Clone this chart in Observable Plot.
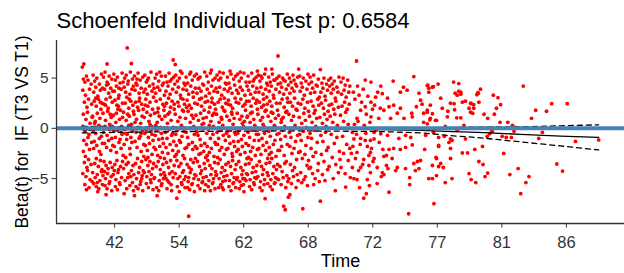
<!DOCTYPE html>
<html><head><meta charset="utf-8">
<script src="https://cdn.jsdelivr.net/npm/d3@7"></script>
<script src="https://cdn.jsdelivr.net/npm/@observablehq/plot@0.6"></script>
<style>
html,body{margin:0;padding:0;background:#fff;}
#chart svg{display:block;}
</style></head><body><div id="chart"></div>
<script>
const titleText = "Schoenfeld Individual Test p: 0.6584";
const xLabel = "Time";
const yLabel = "Beta(t) for\u00a0 IF (T3 VS T1)";
// x positions are KM-transformed time (per mille of range); labels are times
const tickPos = [62.5,187.5,312.5,437.5,562.5,687.5,812.5,937.5];
const tickLabels = ["42","54","62","68","72","77","81","86"];
const yTicks = [-5,0,5];

// scaled Schoenfeld residuals: [transformed time, beta(t)]
const residuals = [
[0,6.1],[3,6.4],[2,4.9],[5,4.6],[8,5.2],[11,4.8],[1,3.8],[6,3.3],[14,3.9],[17,4.4],[4,2.6],[9,2.1],[12,2.9],[18,2.4],[2,1.4],[7,0.9],[10,1.6],[15,0.5],[19,1.1],[1,0.2],[5,-0.3],[13,-0.6],[16,-0.1],[3,-1.2],[8,-1.6],[11,-0.9],[18,-1.4],[2,-2.3],[6,-2.8],[14,-2.1],[4,-3.4],[9,-3.9],[12,-3.1],[17,-3.6],[1,-4.5],[7,-4.8],[10,-4.2],[15,-5.1],[5,-5.6],[13,-5.9],[19,-5.3],[8,-6.1],
[21,5.3],[24,4.7],[28,5.0],[33,4.4],[37,5.4],[22,3.6],[26,4.1],[30,3.2],[35,3.8],[39,4.0],[23,2.7],[27,2.2],[31,2.9],[36,1.9],[38,2.5],[20,1.2],[25,0.7],[29,1.5],[32,0.3],[34,1.0],[21,-0.2],[26,-0.5],[30,0.1],[37,-0.8],[23,-1.3],[28,-1.7],[33,-1.0],[39,-1.5],[22,-2.0],[27,-3.0],[36,-2.6],[24,-3.5],[31,-3.8],[35,-3.2],[38,-4.1],[20,-4.4],[25,-4.9],[29,-4.6],[34,-5.2],[37,-4.3],[22,-5.5],[27,-5.8],[32,-6.0],[39,-5.6],[30,-6.3],[26,3.0],[33,-2.3],[24,0.5],[35,2.6],[29,-5.4],
[41,5.1],[44,5.6],[48,6.4],[48,4.6],[52,5.2],[57,4.9],[43,3.9],[47,4.3],[51,3.5],[55,4.0],[59,3.7],[42,2.4],[46,2.9],[50,2.0],[54,3.1],[58,2.6],[40,1.5],[45,0.8],[49,1.7],[53,0.4],[56,1.1],[41,-0.4],[44,0.2],[48,-0.7],[52,-0.1],[57,-1.0],[43,-1.5],[47,-1.9],[51,-1.2],[55,-2.2],[59,-1.7],[42,-3.3],[46,-3.7],[50,-4.0],[54,-3.4],[58,-3.9],[40,-4.7],[45,-5.0],[49,-4.5],[53,-5.3],[56,-4.8],[44,-5.7],[48,-6.0],[52,-5.5],[57,-6.2],[46,-6.6],[50,4.4],[54,1.4],[43,-4.3],[58,0.2],[45,2.3],
[61,5.4],[64,4.8],[68,5.1],[73,4.5],[77,5.5],[62,3.7],[66,4.2],[71,3.3],[75,3.9],[79,4.6],[63,2.8],[67,2.3],[70,3.0],[74,1.8],[78,2.5],[60,1.3],[65,0.6],[69,1.9],[72,0.9],[76,0.2],[61,-0.3],[64,-0.9],[68,-0.2],[73,-1.1],[77,-0.6],[62,-1.8],[66,-2.4],[71,-1.4],[75,-2.0],[79,-2.7],[63,-3.6],[67,-3.2],[70,-4.1],[74,-3.8],[78,-3.3],[60,-4.6],[65,-5.1],[69,-4.4],[72,-5.4],[76,-4.9],[64,-5.8],[68,-6.1],[73,-5.6],[81,-6.5],[66,1.5],[71,4.0],[75,-0.4],[62,-4.2],[78,1.1],[70,2.2],
[82,5.0],[85,5.3],[87,8.0],[89,4.7],[93,5.6],[95,6.45],[97,4.9],[81,4.1],[84,3.6],[88,4.4],[92,3.4],[96,3.9],[99,4.2],[83,2.5],[86,3.1],[90,2.0],[94,2.7],[98,2.3],[80,1.6],[85,0.8],[91,1.2],[95,0.4],[99,1.7],[82,-0.1],[87,-0.6],[90,0.3],[94,-0.9],[97,-0.3],[81,-1.6],[86,-1.1],[92,-2.0],[96,-1.4],[84,-2.9],[89,-3.4],[93,-2.6],[98,-3.7],[80,-4.0],[85,-3.6],[90,-4.5],[95,-4.2],[83,-5.2],[88,-4.9],[92,-5.7],[97,-5.4],[86,-6.0],[99,-6.2],[91,2.9],[94,-4.8],[88,1.4],[84,-0.5],
[101,5.2],[104,4.5],[108,5.5],[112,4.8],[117,5.1],[102,3.8],[106,4.3],[110,3.5],[114,4.0],[119,3.6],[103,2.6],[107,2.1],[111,3.0],[115,2.4],[118,1.9],[100,1.4],[105,0.9],[109,1.8],[113,0.5],[116,1.2],[101,-6.7],[104,-0.4],[108,0.1],[112,-0.8],[117,-0.2],[102,-1.3],[106,-1.9],[110,-1.0],[114,-2.3],[119,-1.6],[103,-3.5],[107,-3.0],[111,-3.9],[115,-3.3],[118,-4.2],[100,-4.6],[105,-5.0],[109,-4.4],[113,-5.3],[116,-4.7],[104,-5.8],[108,-6.0],[112,-5.6],[117,-6.2],[106,4.9],[110,2.7],[114,-0.5],[119,-2.8],[102,0.6],[115,-5.0],
[121,5.3],[124,4.6],[128,5.0],[133,5.6],[137,4.4],[122,3.9],[126,3.4],[130,4.2],[135,3.7],[139,4.0],[123,2.9],[127,2.2],[131,2.6],[136,1.9],[138,3.1],[120,1.1],[125,1.6],[129,0.7],[132,1.3],[134,0.2],[121,-0.5],[124,-0.1],[128,-0.9],[133,-0.3],[137,-1.2],[122,-1.7],[126,-2.2],[130,-1.5],[135,-2.6],[139,-1.9],[123,-3.1],[127,-3.7],[131,-3.3],[136,-4.0],[138,-3.5],[120,-4.4],[125,-4.8],[129,-4.3],[132,-5.1],[134,-4.6],[124,-5.5],[128,-5.9],[133,-5.4],[137,-6.1],[126,4.8],[131,0.4],[135,-0.6],[122,2.3],[139,-5.0],[127,-2.9],
[141,5.0],[144,5.4],[148,4.7],[153,5.2],[157,4.5],[142,3.5],[146,4.1],[150,3.8],[155,4.3],[159,3.3],[143,2.7],[147,2.0],[151,2.9],[156,2.4],[158,1.8],[140,1.5],[145,0.6],[149,1.2],[152,0.1],[154,0.9],[141,-0.7],[144,-0.2],[148,-1.1],[153,-0.5],[157,-1.5],[142,-2.1],[146,-2.7],[150,-1.8],[155,-2.4],[159,-3.0],[143,-3.8],[145,-6.7],[147,-3.3],[151,-4.1],[156,-3.6],[158,-4.4],[140,-4.9],[149,-5.2],[152,-4.6],[154,-5.5],[144,-5.9],[148,-6.2],[153,-5.7],[157,-5.0],[150,5.6],[146,1.6],[155,-1.0],[142,0.3],[159,2.2],[151,-2.9],
[161,5.2],[164,4.6],[168,5.5],[173,4.9],[176,6.8],[177,5.1],[162,3.7],[166,4.2],[170,3.4],[175,3.9],[179,4.4],[163,2.5],[167,3.0],[171,2.1],[174,2.7],[178,1.9],[160,1.2],[165,0.5],[169,1.6],[172,0.8],[176,0.1],[161,-0.4],[164,-1.0],[168,-0.1],[173,-0.7],[177,-1.3],[162,-1.9],[166,-2.5],[170,-1.6],[175,-2.2],[179,-2.8],[163,-3.4],[167,-3.9],[171,-3.2],[174,-4.3],[178,-3.7],[160,-4.7],[165,-5.2],[169,-4.5],[172,-5.6],[176,-4.9],[164,-6.0],[168,-5.4],[180,6.35],[173,-6.2],[166,1.4],[170,4.7],[175,-0.5],[162,-5.0],[178,2.4],
[181,5.3],[184,4.7],[188,5.0],[193,5.5],[197,4.5],[182,3.6],[183,-6.95],[186,4.1],[190,3.3],[195,3.9],[199,4.3],[185,2.6],[187,2.2],[191,3.0],[196,1.7],[198,2.4],[180,1.4],[185,0.7],[189,1.1],[192,0.3],[194,1.8],[181,-0.6],[184,-0.2],[188,-1.2],[193,-0.8],[197,-0.3],[182,-1.7],[186,-2.3],[190,-1.4],[195,-2.7],[199,-2.0],[183,-3.2],[187,-3.8],[191,-3.5],[196,-4.2],[198,-3.0],[180,-4.5],[185,-5.0],[189,-4.8],[192,-5.4],[194,-4.4],[184,-5.8],[188,-6.3],[193,-5.6],[197,-5.1],[190,5.7],[186,0.0],[195,2.9],[182,-2.6],[199,-5.9],
[201,5.1],[204,4.5],[206,-8.75],[208,5.4],[213,4.8],[217,5.2],[202,3.8],[206,3.4],[210,4.2],[214,3.6],[219,4.0],[203,2.8],[207,2.3],[211,2.0],[215,3.1],[218,2.5],[200,1.0],[205,1.7],[209,0.6],[212,1.3],[216,0.2],[201,-0.4],[204,-0.9],[208,0.0],[213,-1.4],[217,-0.6],[202,-1.9],[206,-1.6],[210,-3.1],[214,-2.1],[219,-1.8],[203,-3.6],[207,-3.9],[211,-4.1],[215,-3.4],[218,-4.6],[200,-4.8],[205,-5.3],[209,-4.4],[212,-5.6],[216,-5.0],[204,-5.9],[208,-6.1],[213,-5.5],[217,-6.3],[210,5.6],[215,1.0],[202,2.1],[219,-3.0],[206,-4.9],
[221,5.4],[224,4.9],[228,5.1],[233,4.4],[237,5.6],[222,3.5],[226,4.0],[230,3.7],[235,4.3],[239,3.2],[223,2.4],[227,2.9],[231,2.2],[236,1.8],[238,2.6],[220,1.3],[225,0.8],[229,1.5],[232,0.4],[234,1.0],[221,-0.3],[224,-0.7],[228,-1.1],[233,-0.1],[237,-1.5],[222,-2.0],[226,-2.6],[230,-1.7],[235,-2.3],[239,-2.9],[223,-3.3],[227,-3.8],[231,-4.2],[236,-3.5],[238,-4.0],[220,-4.7],[225,-5.1],[229,-4.5],[232,-5.4],[234,-4.9],[224,-5.7],[228,-6.0],[233,-5.3],[237,-6.2],[226,5.0],[231,3.0],[235,0.5],[222,-0.4],[239,-5.6],[229,-2.5],
[241,5.2],[244,4.6],[248,5.5],[253,4.8],[257,5.0],[242,3.9],[246,3.5],[250,4.2],[255,3.7],[259,4.0],[243,2.7],[247,2.1],[251,3.0],[256,2.4],[258,1.9],[240,1.1],[245,1.6],[249,0.7],[252,1.3],[254,0.2],[241,-0.5],[244,-0.1],[248,-1.0],[253,-0.6],[257,-1.4],[242,-1.8],[246,-2.4],[250,-2.0],[255,-2.8],[259,-1.6],[243,-3.2],[247,-3.7],[251,-4.0],[256,-3.4],[258,-4.3],[240,-4.8],[245,-5.2],[249,-4.6],[252,-5.5],[254,-5.0],[244,-5.8],[248,-6.2],[253,-5.4],[257,-6.0],[250,5.8],[246,0.3],[255,1.5],[242,-2.7],[259,-4.7],[251,2.6],
[261,5.3],[264,4.8],[268,5.0],[273,5.5],[277,4.5],[262,3.6],[266,4.1],[270,3.3],[275,3.9],[279,4.4],[263,2.6],[267,2.9],[271,2.1],[276,1.7],[278,2.5],[260,1.4],[265,0.6],[269,1.1],[272,0.3],[274,1.8],[261,-0.4],[264,-1.0],[268,-0.2],[273,-0.7],[277,-1.2],[262,-1.6],[266,-2.2],[270,-1.9],[275,-2.6],[279,-2.1],[263,-3.5],[267,-3.1],[271,-3.9],[276,-4.2],[278,-3.6],[260,-4.6],[265,-5.0],[269,-4.4],[272,-5.3],[274,-4.8],[264,-5.9],[268,-5.6],[273,-6.1],[277,-5.2],[266,5.6],[270,0.9],[275,3.0],[262,-2.9],[279,-0.5],[271,-5.9],
[281,5.1],[284,4.5],[288,5.4],[293,4.9],[297,5.2],[282,3.7],[286,4.0],[290,3.5],[295,4.3],[299,3.8],[283,2.8],[287,2.3],[291,2.0],[296,3.0],[298,2.6],[280,1.2],[285,0.8],[289,1.6],[292,0.4],[294,1.0],[281,-0.3],[284,-0.8],[288,-0.1],[293,-1.3],[297,-0.6],[282,-2.0],[286,-1.5],[290,-2.5],[295,-1.8],[299,-2.3],[283,-3.4],[287,-3.8],[291,-3.2],[296,-4.1],[298,-3.6],[280,-4.7],[285,-5.2],[289,-4.5],[292,-5.5],[294,-4.9],[284,-5.8],[288,-6.2],[293,-5.4],[297,-5.9],[286,5.7],[290,1.4],[295,-0.4],[282,2.4],[299,-5.1],[291,-2.8],
[301,5.4],[304,4.7],[308,5.0],[313,5.5],[317,4.6],[302,3.5],[306,4.1],[310,3.8],[315,3.3],[319,4.2],[303,2.5],[307,2.9],[311,2.2],[316,1.8],[318,2.7],[300,1.5],[305,0.9],[309,1.2],[312,0.2],[314,0.7],[301,-0.5],[304,-0.2],[308,-1.1],[313,-0.7],[317,-1.5],[302,-2.1],[306,-2.6],[310,-1.8],[315,-2.4],[319,-3.0],[303,-3.3],[307,-3.9],[311,-4.2],[316,-3.6],[318,-4.5],[300,-4.9],[305,-5.3],[309,-4.6],[312,-5.6],[314,-5.0],[304,-6.0],[308,-5.7],[313,-6.3],[317,-5.2],[306,5.6],[310,0.5],[315,2.4],[302,-1.3],[319,1.1],[311,-5.0],
[321,5.2],[324,4.6],[328,5.5],[333,4.9],[337,5.1],[339,5.7],[322,3.8],[326,3.4],[330,4.2],[335,3.6],[338,4.0],[323,2.7],[327,2.2],[331,3.0],[336,2.5],[339,1.9],[320,1.2],[325,0.6],[329,1.6],[332,0.9],[334,0.3],[321,-0.4],[324,-0.9],[328,-0.2],[333,-1.2],[337,-0.6],[322,-1.7],[326,-2.3],[330,-1.9],[335,-2.7],[339,-2.1],[323,-3.5],[327,-3.1],[331,-3.9],[336,-4.3],[338,-3.7],[320,-4.6],[325,-5.1],[329,-4.4],[332,-5.4],[334,-4.9],[324,-5.8],[328,-6.1],[333,-5.6],[337,-5.0],[326,1.5],[331,4.7],[335,-0.1],[322,-2.9],[338,2.8],
[341,5.3],[344,4.7],[348,5.0],[353,5.4],[354,-7.0],[355,5.9],[357,4.5],[342,3.6],[346,4.1],[350,3.4],[355,3.9],[359,4.3],[343,2.6],[347,2.1],[351,2.9],[356,1.8],[358,2.4],[340,1.4],[345,0.8],[349,1.1],[352,0.2],[354,1.7],[341,-0.6],[344,-0.1],[348,-1.0],[353,-0.5],[357,-1.4],[342,-2.0],[346,-2.6],[350,-1.7],[355,-2.2],[359,-3.0],[343,-3.3],[347,-3.8],[351,-4.1],[356,-3.5],[358,-4.4],[340,-4.8],[345,-5.3],[349,-4.6],[352,-5.6],[344,-5.9],[348,-6.2],[353,-5.1],[346,5.2],[350,0.4],[357,3.1],[342,-1.2],[359,-5.5],[351,2.3],
[361,5.1],[364,4.6],[367,5.9],[368,5.4],[373,4.8],[377,5.0],[379,7.2],[362,3.7],[366,4.2],[370,3.3],[375,3.9],[379,4.4],[363,2.7],[367,2.2],[371,3.0],[376,2.5],[378,1.8],[360,1.2],[365,0.7],[369,1.5],[372,0.3],[374,1.0],[361,-0.3],[364,-0.8],[368,-0.1],[373,-1.2],[377,-0.6],[362,-1.9],[366,-2.4],[370,-1.6],[375,-2.8],[379,-2.2],[363,-3.4],[367,-3.0],[371,-3.8],[376,-4.1],[378,-3.6],[360,-4.7],[365,-5.1],[369,-4.5],[372,-5.5],[374,-4.9],[364,-5.8],[368,-6.1],[373,-5.4],[366,1.6],[371,4.8],[375,0.1],[362,-2.6],[377,-5.0],
[381,5.2],[384,4.5],[388,5.0],[390,-7.75],[393,-8.1],[393,4.7],[397,5.4],[382,3.6],[386,4.1],[390,3.4],[395,3.9],[399,4.3],[383,2.5],[387,2.9],[391,2.1],[396,1.7],[398,2.6],[380,1.3],[385,0.6],[389,1.1],[392,0.2],[394,1.6],[381,-0.5],[384,-1.1],[388,-0.2],[393,-0.8],[397,-1.6],[382,-2.2],[386,-1.8],[391,-2.7],[395,-3.3],[399,-6.85],[383,-3.8],[387,-4.3],[392,-3.5],[396,-4.7],[380,-5.1],[385,-5.6],[389,-4.9],[394,-5.9],[398,-5.3],[390,4.8],[386,0.9],[397,3.0],
[401,5.0],[402,-6.6],[404,4.6],[408,5.3],[413,4.4],[417,5.1],[419,5.9],[402,3.5],[406,4.0],[410,3.7],[415,4.2],[403,2.6],[407,2.2],[411,3.0],[416,1.8],[418,2.5],[400,1.4],[405,0.8],[409,1.2],[412,0.3],[414,1.9],[401,-0.4],[404,-0.9],[408,-0.1],[413,-1.3],[417,-0.7],[402,-1.8],[406,-2.5],[410,-2.0],[415,-3.1],[419,-2.4],[403,-3.6],[407,-4.2],[411,-3.9],[416,-4.6],[400,-5.0],[405,-5.5],[409,-4.8],[414,-5.9],[418,-5.2],[410,4.8],[406,0.0],
[421,5.2],[424,4.5],[427,-8.0],[428,5.0],[433,4.7],[437,5.4],[422,3.7],[426,4.1],[430,3.3],[435,3.9],[439,4.4],[423,2.4],[427,2.9],[431,2.0],[436,2.6],[438,1.7],[420,1.1],[425,0.5],[429,1.5],[432,0.8],[434,0.1],[421,-0.6],[424,-1.2],[428,-0.3],[433,-1.7],[437,-0.9],[422,-2.3],[426,-3.0],[431,-2.6],[435,-3.7],[439,-4.0],[423,-4.4],[429,-5.1],[436,-5.7],[425,-5.4],[432,-4.8],[438,-3.2],
[441,5.1],[444,4.6],[448,5.3],[448,-5.6],[453,4.3],[457,4.9],[442,3.5],[446,4.0],[450,3.6],[455,4.2],[459,3.1],[443,2.7],[447,2.2],[451,1.8],[456,2.9],[458,2.3],[440,1.2],[445,0.6],[449,1.5],[452,0.2],[454,1.0],[441,-0.5],[444,-1.0],[450,-0.2],[455,-1.4],[443,-2.0],[447,-2.8],[452,-2.4],[457,-3.5],[442,-3.9],[446,-4.5],[451,-5.0],[456,-4.2],[459,-5.3],
[461,5.85],[461,-7.25],[464,4.5],[468,5.0],[473,4.4],[477,4.8],[462,3.6],[466,4.0],[470,3.2],[475,3.8],[479,4.2],[463,2.5],[467,2.0],[471,2.8],[476,1.7],[478,2.3],[460,1.1],[465,0.5],[469,1.4],[472,0.2],[474,0.9],[462,-0.7],[466,-1.3],[471,-0.4],[476,-1.9],[463,-2.6],[468,-3.3],[473,-2.2],[478,-3.8],[465,-4.6],[470,-5.2],[475,-4.1],
[481,5.0],[484,4.4],[488,4.7],[493,4.1],[497,5.1],[482,3.5],[486,3.9],[490,3.0],[495,3.6],[483,2.4],[487,1.9],[491,2.7],[496,2.1],[480,1.2],[485,0.6],[489,1.4],[494,0.3],[490,-6.2],[482,-0.6],[488,-1.5],[493,-0.9],[498,-2.3],[484,-2.9],[491,-3.6],[496,-4.4],[486,-5.0],[499,-3.1],
[501,4.6],[505,5.0],[509,4.3],[514,4.8],[518,4.2],[502,3.4],[507,3.8],[511,3.1],[516,3.6],[503,2.2],[508,2.6],[513,1.9],[517,2.4],[500,1.3],[506,0.7],[510,1.6],[515,0.4],[519,-4.9],[510,-5.85],[504,-0.8],[512,-1.6],[506,-2.5],[515,-3.2],[501,-3.9],[509,-4.5],[518,-2.0],
[525,3.6],[528,2.9],[533,4.2],[536,3.3],[541,2.6],[544,3.9],[550,1.4],[553,3.2],[562,1.9],[566,2.3],[572,3.6],[577,2.0],[527,0.4],[534,0.7],[546,0.3],[557,0.6],[569,-0.2],[531,-0.6],[538,-1.6],[549,-0.5],[560,-2.0],[575,-1.4],[529,-3.0],[543,-3.6],[563,-3.3],[579,-4.8],[524,-1.8],[556,-5.7],
[531,6.7],[548,4.8],[559,4.6],[578,4.2],[602,4.7],[642,5.15],[669,4.3],[689,4.4],[719,4.6],[729,4.45],[767,3.5],[622,4.1],[629,3.8],[616,3.6],[671,4.0],[678,4.1],[652,3.5],[733,3.6],[726,3.3],[713,2.5],[736,2.6],[742,2.7],[749,2.0],[758,2.0],[768,2.6],[697,2.0],[708,1.7],[707,1.15],[725,1.05],[733,1.05],[686,0.8],[674,1.0],[661,1.5],[668,1.8],[658,2.4],[655,2.8],[647,2.15],[638,1.5],[623,1.0],[610,1.5],[616,2.0],[603,2.3],[594,2.15],[584,1.8],[591,3.0],[581,3.45],[568,3.1],[559,2.6],[548,2.15],[539,1.8],[532,1.0],[559,1.15],[574,1.0],[597,1.0],[639,1.15],[694,3.0],
[668,4.25],[671,3.6],[680,4.15],[722,3.5],[729,3.7],[733,3.4],[752,2.5],[674,2.3],[668,1.6],[678,1.45],[673,0.85],[661,0.6],[668,0.45],[684,0.8],[720,2.45],[721,1.85],[752,1.6],[833,0.3],[739,0.3],[726,-0.2],[703,0.2],[680,-0.4],[701,-0.8],[839,0.1],[690,-1.7],[710,-1.4],[715,-1.15],[685,-2.9],
[632,-8.5],[681,-7.5],[545,-6.95],[550,-6.5],[537,-5.9],[594,-6.35],[571,-5.5],[634,-5.6],[634,-4.9],[671,-5.0],[678,-5.0],[686,-4.7],[703,-5.4],[716,-5.0],[749,-4.5],[753,-5.1],[762,-5.4],[526,-5.0],[532,-5.1],[552,-5.1],[523,-3.9],[535,-4.2],[539,-3.9],[558,-4.4],[555,-3.7],[571,-3.9],[581,-4.4],[584,-4.6],[589,-3.7],[592,-4.0],[610,-3.9],[607,-4.2],[626,-4.0],[642,-3.5],[649,-3.3],[655,-3.2],[645,-4.2],[652,-4.0],[678,-3.7],[686,-3.0],[690,-3.8],[694,-3.5],[699,-3.9],[713,-3.0],[521,-2.5],[532,-2.4],[545,-3.1],[555,-2.7],[558,-2.4],[565,-3.0],[584,-2.8],[589,-2.7],[600,-3.0],[582,-2.1],[594,-2.1],[603,-2.0],[616,-2.1],[626,-1.9],[639,-1.65],[663,-2.1],[690,-1.8],[713,-2.0],[736,-2.45],[746,-2.45],[760,-2.1],[768,-3.3],[713,-1.05],[716,-1.2],[690,-0.9],[665,-0.7],[742,-1.05],[523,-0.4],[526,-1.05],[539,-1.0],[548,-1.2],[552,-1.8],[558,-1.2],[565,-1.05],[565,-0.4],[578,-0.55],[591,-0.7],[613,-1.0],[626,-0.7],[636,-0.9],
[854,4.2],[771,3.9],[766,3.55],[764,3.35],[796,3.3],[805,3.05],[753,2.45],[758,2.35],[802,2.0],[810,2.35],[798,1.4],[778,1.4],[785,1.0],[756,1.5],[809,0.6],[824,0.6],[878,1.8],[870,1.0],[909,2.45],[899,1.7],[939,2.45],[792,-0.35],[836,-0.3],[891,-0.4],
[794,-0.3],[789,-0.55],[784,-0.8],[813,-0.8],[821,-0.9],[831,-0.9],[884,-1.0],[955,-1.3],[1000,-1.15],[775,-1.8],[816,-2.5],[776,-3.6],[919,-3.55],[930,-4.25],[844,-4.0],[828,-4.6],[865,-4.8],[859,-5.4],[849,-6.5],[785,-4.45],[780,-4.8]
];

// smoothed beta(t) fit with confidence band
const fitK = [0,229,422,578,655,719,766,849,926,1000];
const fitY = [-0.15,-0.1,-0.08,-0.12,-0.2,-0.33,-0.4,-0.6,-0.78,-0.9];
const upperY = [0.2,0.1,0.08,0.08,0.04,0.08,0.12,0.15,0.25,0.35];
const lowerY = [-0.45,-0.3,-0.25,-0.32,-0.45,-0.75,-0.92,-1.35,-1.75,-2.15];

const pts = residuals.map(([k, b]) => ({k, b}));
const fit = fitK.map((k, i) => ({k, fit: fitY[i], up: upperY[i], lo: lowerY[i]}));
const labelAt = new Map(tickPos.map((p, i) => [p, tickLabels[i]]));
const xDom = [-50, 1050], yDom = [-9.47, 8.74];
const font = "'Liberation Sans', Arial, sans-serif";

const chart = Plot.plot({
  width: 624, height: 273,
  marginTop: 40, marginBottom: 50, marginLeft: 56, marginRight: 0,
  style: {fontFamily: font, background: "#fff", overflow: "visible"},
  x: {domain: xDom},
  y: {domain: yDom},
  marks: [
    Plot.dot(pts, {x: "k", y: "b", r: 1.9, fill: "#ff0000"}),
    Plot.line(fit, {x: "k", y: "fit", stroke: "#000", strokeWidth: 1.3}),
    Plot.line(fit, {x: "k", y: "up", stroke: "#000", strokeWidth: 1.3, strokeDasharray: "5,4"}),
    Plot.line(fit, {x: "k", y: "lo", stroke: "#000", strokeWidth: 1.3, strokeDasharray: "5,4"}),
    Plot.ruleY([0], {stroke: "#4682b4", strokeWidth: 4}),
    Plot.ruleX([xDom[0]], {stroke: "#333", strokeWidth: 1.3}),
    Plot.ruleY([yDom[0]], {stroke: "#333", strokeWidth: 1.3}),
    Plot.axisX(tickPos, {anchor: "bottom", tickSize: 4.5, tickPadding: 8, fontSize: 16.5, tickFormat: d => labelAt.get(d), color: "#333", label: null}),
    Plot.axisY(yTicks, {anchor: "left", tickSize: 4.5, tickPadding: 3.5, fontSize: 15.5, color: "#333", label: null}),
    Plot.text([titleText], {frameAnchor: "top-left", textAnchor: "start", lineAnchor: "middle", dy: -20, fontSize: 22, fill: "#000"}),
    Plot.text([xLabel], {frameAnchor: "bottom", lineAnchor: "middle", dy: 38, fontSize: 18, fill: "#000"}),
    Plot.text([yLabel], {frameAnchor: "left", rotate: -90, textAnchor: "middle", lineAnchor: "middle", dx: -34, fontSize: 17.5, fill: "#000"})
  ]
});
document.getElementById("chart").appendChild(chart);
</script>
</body></html>
